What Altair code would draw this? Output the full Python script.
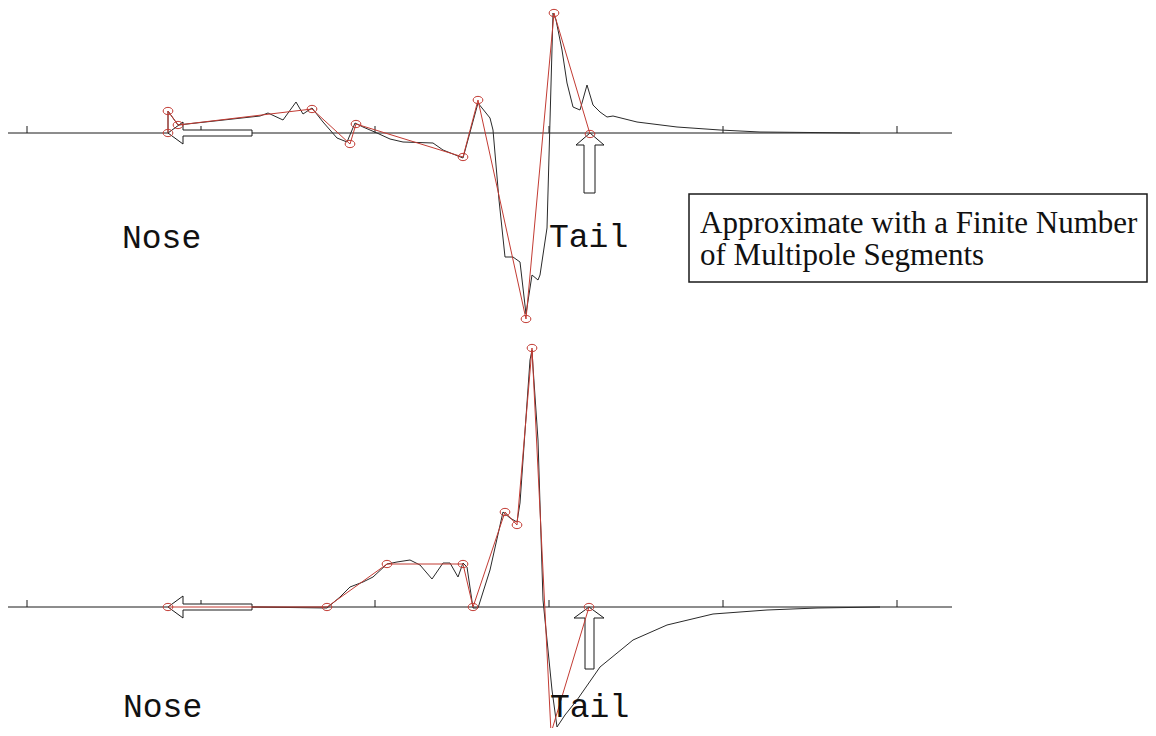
import altair as alt
import pandas as pd

# ---------------- data (pixel-like units) ----------------
tick_x = [27, 201, 375, 549, 723, 897]
axis_y = [133, 607]          # baseline of top and bottom panel
axis_x_start = 8
axis_x_end = 952
tick_len = 7

# top panel: measured signal (black) and multipole fit (red)
top_signal_x = [168, 168, 178, 260, 268, 283, 296, 303, 312, 323, 337, 347, 355, 363, 377, 390,
                403, 433, 443, 463, 478, 490, 493, 499, 505, 513, 520, 526, 532, 538, 540, 547,
                553, 556, 562, 567, 573, 580, 587, 593, 600, 607, 613, 637, 677, 720, 760, 860]
top_signal_y = [133, 111, 125, 116, 113, 120, 102, 114, 108, 122, 138, 142, 123, 127, 133, 139,
                142, 143, 150, 158, 103, 118, 130, 200, 257, 257, 262, 314, 275, 280, 275, 228,
                13, 20, 50, 83, 107, 110, 85, 105, 112, 117, 116, 122, 127, 130, 132, 133]
top_fit_x = [168, 168, 178, 312, 350, 356, 463, 478, 526, 554, 590]
top_fit_y = [133, 111, 125, 109, 144, 124, 157, 100, 319, 13, 134]

# bottom panel
bottom_signal_x = [252, 327, 340, 350, 363, 373, 387, 397, 410, 420, 432, 443, 450, 458, 463, 467,
                   473, 478, 490, 503, 510, 517, 520, 530, 532, 533, 538, 543, 552, 557, 565, 577,
                   600, 633, 667, 713, 767, 817, 880]
bottom_signal_y = [607, 608, 597, 587, 582, 577, 564, 562, 560, 565, 579, 563, 563, 577, 563, 567,
                   608, 608, 570, 512, 518, 522, 503, 360, 350, 367, 440, 600, 690, 727, 715, 700,
                   667, 640, 625, 614, 610, 608, 607]
bottom_fit_x = [168, 327, 387, 463, 473, 505, 517, 532, 551, 589]
bottom_fit_y = [607, 607, 564, 564, 607, 512, 525, 348, 733, 607]

# arrow outlines (nose arrows pointing left, tail arrows pointing up)
arrow_names = ["top_nose", "bottom_nose", "top_tail", "bottom_tail"]
arrow_x = [
    [168, 183, 183, 252, 252, 183, 183, 168],
    [168, 183, 183, 252, 252, 183, 183, 168],
    [590, 604, 595, 595, 584, 584, 576, 590],
    [589, 604, 594, 594, 585, 585, 574, 589],
]
arrow_y = [
    [133, 122, 130, 130, 136, 136, 144, 133],
    [607, 596, 604, 604, 610, 610, 618, 607],
    [133, 145, 145, 193, 193, 145, 145, 133],
    [607, 618, 618, 669, 669, 618, 618, 607],
]

# labels
label_text = ["Nose", "Tail", "Nose", "Tail"]
label_x = [122, 549, 123, 550]
label_y = [248, 247, 717, 717]

# annotation box
box_x = [689, 1147]
box_y = [194, 282]
note_lines = ["Approximate with a Finite Number", "of Multipole Segments"]
note_x = [700, 700]
note_y = [233, 265]

RED = "#c23b33"
BLACK = "#1a1a1a"

# ---------------- tables ----------------
def series(xs, ys):
    return pd.DataFrame({"x": xs, "y": ys, "i": range(len(xs))})

top_sig = series(top_signal_x, top_signal_y)
top_fit = series(top_fit_x, top_fit_y)
bot_sig = series(bottom_signal_x, bottom_signal_y)
bot_fit = series(bottom_fit_x, bottom_fit_y)

axis_df = pd.DataFrame({"x": [axis_x_start] * 2, "x2": [axis_x_end] * 2, "y": axis_y})
tick_rows = []
for ay in axis_y:
    for tx in tick_x:
        tick_rows.append({"x": tx, "y": ay - tick_len, "y2": ay})
tick_df = pd.DataFrame(tick_rows)

arrow_rows = []
for name, xs, ys in zip(arrow_names, arrow_x, arrow_y):
    for k, (ax_, ay_) in enumerate(zip(xs, ys)):
        arrow_rows.append({"arrow": name, "x": ax_, "y": ay_, "i": k})
arrow_df = pd.DataFrame(arrow_rows)

label_df = pd.DataFrame({"x": label_x, "y": label_y, "t": label_text})
box_df = pd.DataFrame({"x": [box_x[0]], "x2": [box_x[1]], "y": [box_y[0]], "y2": [box_y[1]]})
note_df = pd.DataFrame({"x": note_x, "y": note_y, "t": note_lines})

# ---------------- scales ----------------
xs = alt.Scale(domain=[8, 1148], nice=False, zero=False)
ys = alt.Scale(domain=[8, 728], nice=False, zero=False, reverse=True)
X = lambda f="x": alt.X(f"{f}:Q", scale=xs, axis=None)
Y = lambda f="y": alt.Y(f"{f}:Q", scale=ys, axis=None)

axis_layer = alt.Chart(axis_df).mark_rule(color=BLACK, strokeWidth=1).encode(
    x=X(), x2="x2:Q", y=Y())
tick_layer = alt.Chart(tick_df).mark_rule(color=BLACK, strokeWidth=1).encode(
    x=X(), y=Y(), y2="y2:Q")

arrow_layer = alt.Chart(arrow_df).mark_line(
    stroke=BLACK, strokeWidth=1, fill="white", interpolate="linear"
).encode(x=X(), y=Y(), detail="arrow:N", order="i:Q")

def sig_line(df):
    return alt.Chart(df).mark_line(color="#2a2a2a", strokeWidth=1).encode(
        x=X(), y=Y(), order="i:Q")

def fit_line(df):
    return alt.Chart(df).mark_line(color=RED, strokeWidth=1).encode(
        x=X(), y=Y(), order="i:Q")

def fit_pts(df):
    return alt.Chart(df).mark_point(
        shape="M-1,0A1,0.75,0,1,0,1,0A1,0.75,0,1,0,-1,0Z",
        filled=False, color=RED, size=95, strokeWidth=1, opacity=1
    ).encode(x=X(), y=Y())

label_layer = alt.Chart(label_df).mark_text(
    font="Liberation Mono", fontSize=33, align="left", baseline="alphabetic", color="#111"
).encode(x=X(), y=Y(), text="t:N")

box_layer = alt.Chart(box_df).mark_rect(
    fill="white", stroke=BLACK, strokeWidth=1.5
).encode(x=X(), x2="x2:Q", y=Y(), y2="y2:Q")

note_layer = alt.Chart(note_df).mark_text(
    font="Liberation Serif", fontSize=31, align="left", baseline="alphabetic", color="#111"
).encode(x=X(), y=Y(), text="t:N")

chart = alt.layer(
    axis_layer, tick_layer, arrow_layer,
    sig_line(top_sig), sig_line(bot_sig),
    fit_line(top_fit), fit_line(bot_fit),
    fit_pts(top_fit), fit_pts(bot_fit),
    label_layer, box_layer, note_layer,
).properties(
    width=1140, height=720,
    autosize=alt.AutoSizeParams(type="none"), padding=0,
).configure_view(stroke=None)

chart.save("out.html", embed_options={"renderer": "svg", "actions": False})
